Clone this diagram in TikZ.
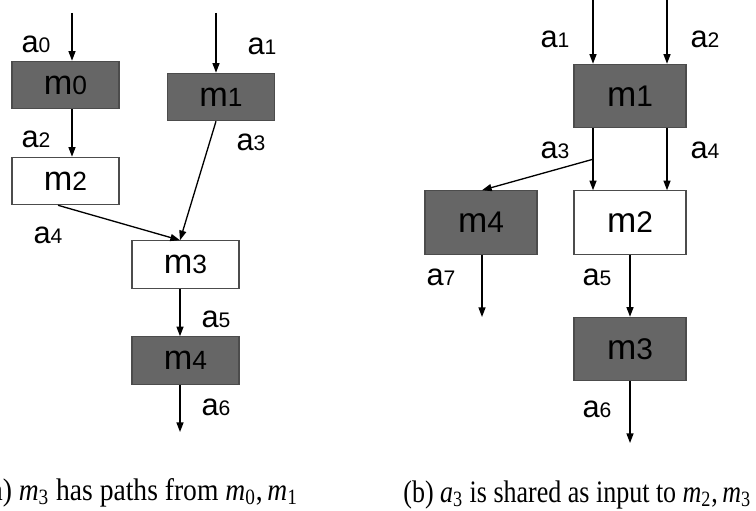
\documentclass[tikz,border=0pt]{standalone}
\usepackage{fontspec}
\setmainfont{Liberation Serif}
\newfontfamily\arial{Liberation Sans}
\usepackage{tikz}
\usetikzlibrary{arrows.meta, positioning}

% index digit, set smaller than the letter
\newcommand{\dgsize}{8}
\newcommand{\ix}[2]{#1{\fontsize{\dgsize}{\dgsize}\selectfont #2}}
% italic variable with subscript for the captions
\newcommand{\mv}[2]{\textit{#1}\textsubscript{#2}}

\tikzset{
  box/.style={draw=black!70, line width=0.6pt, inner sep=0pt},
  lbox/.style={box, minimum width=2.14cm, minimum height=0.95cm,
    font=\arial\fontsize{19.5}{22}\selectfont\renewcommand{\dgsize}{15}},
  rbox/.style={box, minimum width=2.24cm, minimum height=1.27cm,
    font=\arial\fontsize{20}{24}\selectfont\renewcommand{\dgsize}{17}},
  dark/.style={fill=black!60},
  light/.style={fill=white},
  lab/.style={anchor=base, inner sep=0pt,
    font=\arial\fontsize{17.5}{21}\selectfont\renewcommand{\dgsize}{12}},
  arr/.style={-{Triangle[length=5.5pt, width=4pt]}, line width=0.75pt},
  capt/.style={anchor=base west, inner sep=0pt, font=\fontsize{14.8}{18}\selectfont}
}

\begin{document}
\begin{tikzpicture}[x=0.02cm, y=-0.02cm]
\useasboundingbox (0,0) rectangle (756,510);
\clip (0,0) rectangle (756,510);

% (a) left picture
\node[lbox, dark]  (lm0) at (65.5,85)    {\ix{m}{0}};
\node[lbox, dark]  (lm1) at (221,97)     {\ix{m}{1}};
\node[lbox, light] (lm2) at (65.5,181)   {\ix{m}{2}};
\node[lbox, light] (lm3) at (185.5,264.5) {\ix{m}{3}};
\node[lbox, dark]  (lm4) at (185.5,360.5) {\ix{m}{4}};

\coordinate (lin0) at (72,13);
\coordinate (lin1) at (216,13);
\coordinate (lout) at (180,432);

\draw[arr] (lin0) -- (lin0 |- lm0.north);
\draw[arr] (lin0 |- lm0.south) -- (lin0 |- lm2.north);
\draw[arr] (lin1) -- (lin1 |- lm1.north);
\draw[arr] (lin1 |- lm1.south) -- (lout |- lm3.north);
\draw[arr] ([xshift=-0.15cm]lm2.south) -- (lout |- lm3.north);
\draw[arr] (lout |- lm3.south) -- (lout |- lm4.north);
\draw[arr] (lout |- lm4.south) -- (lout);

\node[lab] (la0) at (36,52)   {\ix{a}{0}};
\node[lab] (la1) at (262,55)  {\ix{a}{1}};
\node[lab] (la2) at (36,147)  {\ix{a}{2}};
\node[lab] (la3) at (251,150) {\ix{a}{3}};
\node[lab] (la4) at (48,243)  {\ix{a}{4}};
\node[lab] (la5) at (216,327) {\ix{a}{5}};
\node[lab] (la6) at (216,415) {\ix{a}{6}};

% (b) right picture
\node[rbox, dark]  (rm1) at (630,96)    {\ix{m}{1}};
\node[rbox, light] (rm2) at (630,222.5) {\ix{m}{2}};
\node[rbox, dark]  (rm4) at (481,222.5) {\ix{m}{4}};
\node[rbox, dark]  (rm3) at (630,349)   {\ix{m}{3}};

\coordinate (rin1) at (593,0);
\coordinate (rin2) at (667,0);
\coordinate (rout7) at (482,317);
\coordinate (rout6) at (630,443);

\draw[arr] (rin1) -- (rin1 |- rm1.north);
\draw[arr] (rin2) -- (rin2 |- rm1.north);
\draw[arr] (rin1 |- rm1.south) -- coordinate[pos=0.5] (split) (rin1 |- rm2.north);
\draw[arr] (rin2 |- rm1.south) -- (rin2 |- rm2.north);
\draw[arr] (split) -- (rout7 |- rm4.north);
\draw[arr] (rout7 |- rm4.south) -- (rout7);
\draw[arr] (rm2.south) -- (rm3.north);
\draw[arr] (rm3.south) -- (rout6);

\node[lab] (ra1) at (555,48)  {\ix{a}{1}};
\node[lab] (ra2) at (705,48)  {\ix{a}{2}};
\node[lab] (ra3) at (555,158) {\ix{a}{3}};
\node[lab] (ra4) at (705,158) {\ix{a}{4}};
\node[lab] (ra7) at (441,285) {\ix{a}{7}};
\node[lab] (ra5) at (597,285) {\ix{a}{5}};
\node[lab] (ra6) at (597,417) {\ix{a}{6}};

% captions
\node[capt] (capa) at (-19,500) {\scalebox{1.06}[1.2]{(a) \mv{m}{3} has paths from \mv{m}{0},\,\mv{m}{1}}};
\node[capt] (capb) at (403,502) {\scalebox{1}[1.2]{(b) \mv{a}{3} is shared as input to \mv{m}{2},\,\mv{m}{3}}};
\end{tikzpicture}
\end{document}
